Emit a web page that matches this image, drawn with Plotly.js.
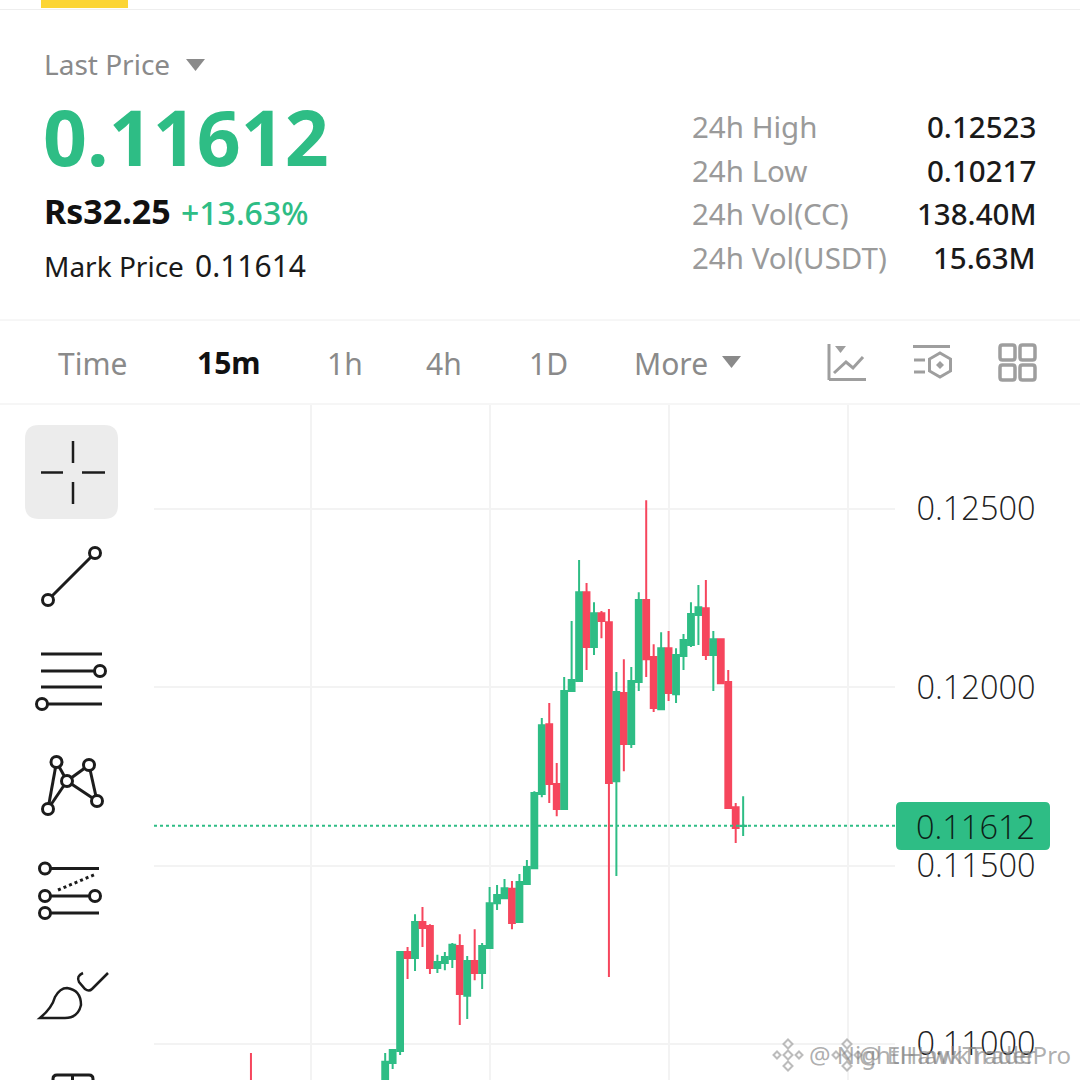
<!DOCTYPE html>
<html><head><meta charset="utf-8">
<script src="https://cdn.plot.ly/plotly-3.0.1.min.js"></script>
<style>html,body{margin:0;padding:0;background:#fff}#c{width:1080px;height:1080px}</style>
</head><body><div id="c"></div>
<script>
// candle position (15-minute bars counted from the 3rd grid line)
var candleIndex=[-56,-38,-37,-36,-35,-34,-33,-32,-31,-30,-29,-28,-27,-26,-25,-24,-23,-22,-21,-20,-19,-18,-17,-16,-15,-14,-13,-12,-11,-10,-9,-8,-7,-6,-5,-4,-3,-2,-1,0,1,2,3,4,5,6,7,8,9,10];
var openPrices=[0.10880,0.10885,0.10947,0.10980,0.11258,0.11241,0.11342,0.11331,0.11213,0.11227,0.11238,0.11275,0.11135,0.11233,0.11199,0.11269,0.11395,0.11409,0.11435,0.11342,0.11449,0.11493,0.11701,0.11897,0.11729,0.11659,0.11990,0.12018,0.12267,0.12113,0.12208,0.12183,0.11737,0.11984,0.11841,0.12015,0.12245,0.12085,0.11939,0.12110,0.11981,0.12088,0.12119,0.12203,0.12222,0.12091,0.12135,0.12015,0.11664,0.11611];
var highPrices=[0.10975,0.10975,0.10986,0.11258,0.11272,0.11364,0.11384,0.11336,0.11250,0.11258,0.11283,0.11308,0.11247,0.11322,0.11283,0.11440,0.11446,0.11463,0.11457,0.11477,0.11516,0.11709,0.11914,0.11956,0.11788,0.12029,0.12186,0.12357,0.12293,0.12239,0.12214,0.12220,0.12043,0.12079,0.12057,0.12267,0.12525,0.12121,0.12155,0.12158,0.12110,0.12150,0.12239,0.12287,0.12301,0.12158,0.12135,0.12049,0.11676,0.11695];
var lowPrices=[0.10850,0.10857,0.10930,0.10969,0.11182,0.11205,0.11272,0.11196,0.11199,0.11207,0.11213,0.11053,0.11070,0.11179,0.11154,0.11269,0.11376,0.11409,0.11322,0.11339,0.11449,0.11491,0.11692,0.11676,0.11639,0.11659,0.11990,0.12015,0.12049,0.12091,0.12138,0.11188,0.11471,0.11765,0.11830,0.11990,0.12029,0.11931,0.11939,0.11962,0.11956,0.12049,0.12113,0.12119,0.12077,0.11990,0.12009,0.11659,0.11564,0.11583];
var closePrices=[0.10860,0.10950,0.10983,0.11258,0.11241,0.11342,0.11325,0.11213,0.11230,0.11244,0.11278,0.11140,0.11233,0.11199,0.11275,0.11395,0.11418,0.11437,0.11339,0.11454,0.11496,0.11704,0.11894,0.11729,0.11659,0.11990,0.12021,0.12267,0.12113,0.12208,0.12186,0.11732,0.11987,0.11841,0.12018,0.12245,0.12079,0.11942,0.12110,0.11984,0.12091,0.12133,0.12206,0.12225,0.12091,0.12135,0.12012,0.11662,0.11606,0.11612];
var priceTicks=[0.11,0.115,0.12,0.125];
var priceTickLabels=["0.11000","0.11500","0.12000","0.12500"];
var gridIndex=[-48,-24,0,24];
var lastPrice=0.11612;

var GREEN="#2EBD85",RED="#F6465D",GRID="#f3f3f3",DARK="#1a1a1a",GREY="#8a8a8a",ICON="#9e9e9e",INK="#1c1c1c";
var SANS="'Noto Sans', sans-serif", THIN="'Open Sans', sans-serif";
var L=154,T=405,W=741,H=675;
function X(p){return (p-L)/W} function Y(p){return 1-(p-T)/H}
function path(d){var i=0;return d.replace(/-?\d+(\.\d+)?/g,function(n){i++;return i%2?X(+n).toFixed(5):Y(+n).toFixed(5)})}

var shapes=[],ann=[];
function sh(o){o.xref='paper';o.yref='paper';o.layer=o.layer||'above';shapes.push(o)}
function line(a,b,c,d,col,w,dash){sh({type:'line',x0:X(a),y0:Y(b),x1:X(c),y1:Y(d),line:{color:col,width:w,dash:dash||'solid'}})}
function circ(x,y,r,col,w){sh({type:'circle',x0:X(x-r),x1:X(x+r),y0:Y(y-r),y1:Y(y+r),fillcolor:'#fff',line:{color:col||INK,width:w||3}})}
function pth(d,fill,col,w){sh({type:'path',path:path(d),fillcolor:fill||'rgba(0,0,0,0)',line:{color:col||'rgba(0,0,0,0)',width:w||0}})}
function rr(a,b,c,d,r,fill,col,w){pth('M'+(a+r)+' '+b+' L'+(c-r)+' '+b+' Q'+c+' '+b+' '+c+' '+(b+r)+' L'+c+' '+(d-r)+' Q'+c+' '+d+' '+(c-r)+' '+d+' L'+(a+r)+' '+d+' Q'+a+' '+d+' '+a+' '+(d-r)+' L'+a+' '+(b+r)+' Q'+a+' '+b+' '+(a+r)+' '+b+' Z',fill,col,w)}
function tx(x,y,t,size,col,anchor,weight,fam){ann.push({xref:'paper',yref:'paper',x:X(x),y:Y(y),text:t,showarrow:false,xanchor:anchor||'left',yanchor:'middle',borderpad:0,font:{size:size,color:col,family:fam||SANS,weight:weight||400}})}

// header
sh({type:'rect',x0:X(41),x1:X(128),y0:Y(0),y1:Y(8),fillcolor:'#FCD535',line:{width:0}});
line(0,9.5,1080,9.5,'#eeeeee',1);
line(0,320,1080,320,'#eeeeee',1);
line(0,404,1080,404,'#f6f6f6',2);
tx(42.5,63.5,'Last Price',28,GREY);
pth('M186 59 L205 59 L195.5 71 Z',GREY);
tx(41.5,136,'0.11612',77,GREEN,'left',700);
tx(42.5,211,'Rs32.25',34,'#111','left',700);
tx(180,212,'+13.63%',32,GREEN,'left',500);
tx(42.5,265.5,'Mark Price',28,DARK);
tx(193.5,265.5,'0.11614',30,DARK);
var statNames=['24h High','24h Low','24h Vol(CC)','24h Vol(USDT)'];
var statVals=['0.12523','0.10217','138.40M','15.63M'];
var statY=[127,170.5,214,258];
statNames.forEach(function(n,i){tx(690.5,statY[i],n,29.5,'#9a9a9a');tx(1036.5,statY[i],statVals[i],29.5,DARK,'right',500)});

// timeframe row
tx(57,363,'Time',30,GREY);
tx(195.5,362,'15m',30,'#111','left',700);
tx(325.5,363,'1h',30,GREY);
tx(424.5,363,'4h',30,GREY);
tx(527.5,363,'1D',30,GREY);
tx(632.5,363,'More',30,GREY);
pth('M722 356 L741 356 L731.5 368 Z',GREY);
// chart-type icons
line(829,344,829,380,ICON,3);line(829,379.5,866,379.5,ICON,3);
pth('M835 346 L846 346 L840.5 353 Z',ICON);
pth('M834 373 L846 362 L853 368 L863 357',null,ICON,3);
line(913,346.5,950,346.5,ICON,3);line(914,360,925,360,ICON,3);line(914,372,925,372,ICON,3);
pth('M940 353 L950.5 359 L950.5 371 L940 377 L929.5 371 L929.5 359 Z',null,ICON,3);
pth('M940 361 L944 365 L940 369 L936 365 Z',ICON);
rr(1000,345,1015,360,2.5,null,ICON,3.5);rr(1020,345,1035,360,2.5,null,ICON,3.5);
rr(1000,365,1015,380,2.5,null,ICON,3.5);rr(1020,365,1035,380,2.5,null,ICON,3.5);

// left drawing tools
rr(25,425,118,519,14,'#ececec');
line(73,441,73,463,INK,2.5);line(73,482,73,504,INK,2.5);line(41,472.5,63,472.5,INK,2.5);line(82,472.5,105,472.5,INK,2.5);
line(48,600,95,553,INK,3);circ(48,600,5.5);circ(95,553,5.5);
line(41,654,102,654,INK,3);line(41,671,100,671,INK,3);line(41,687,102,687,INK,3);line(48,704,102,704,INK,3);
circ(100,671,5.5);circ(42,704,5.5);
[[56.5,762,48,809],[56.5,762,67,781],[48,809,67,781],[67,781,89,765],[89,765,97,801],[67,781,97,801]].forEach(function(s){line(s[0],s[1],s[2],s[3],INK,3)});
[[56.5,762],[89,765],[67,781],[97,801],[48,809]].forEach(function(c){circ(c[0],c[1],5.5)});
line(45,868.5,99,868.5,INK,3);line(45,896,95,896,INK,3);line(45,913,99,913,INK,3);
line(58,890,96,874,INK,3,'dot');
circ(45,868.5,5.5);circ(45,896,5.5);circ(95,896,5.5);circ(45,913,5.5);
pth('M40 1018 Q52 1008 55 997 Q60 988 67 988 Q81 990 81 1005 Q78 1018 65 1018 Z',null,INK,2.5);
pth('M83 973 Q76 976 79 982 L85 989 Q89 992 92 989 L108 973',null,INK,2.5);
rr(53,1075,93,1100,4,null,INK,3);line(72.5,1075,72.5,1082,INK,3);

// last price line and tag
sh({type:'line',xref:'paper',x0:0,x1:1,y0:0,y1:0,line:{color:GREEN,width:2,dash:'dot'}});
var lp=shapes[shapes.length-1];lp.yref='y';lp.y0=lastPrice;lp.y1=lastPrice;
rr(896,802,1050,850,5,GREEN);
tx(915,826,'0.11612',32.5,'#0c1f18','left',300,THIN);

// watermark
function wm(x,tx0,t){
  var c=x+15,m=1055;
  [[0,0,4.5],[-11,0,3.5],[11,0,3.5],[0,-11,4.5],[0,11,4.5]].forEach(function(o){
    var a=c+o[0],b=m+o[1],r=o[2];
    pth('M'+a+' '+(b-r)+' L'+(a+r)+' '+b+' L'+a+' '+(b+r)+' L'+(a-r)+' '+b+' Z','rgba(255,255,255,0.6)','rgba(165,165,165,0.75)',2);
  });
  tx(tx0,1054,t,24,'rgba(130,130,130,0.65)','left',400);
}
wm(773,808,'@ NightHawkTrader');
wm(832,858,'@ ElHawkTradePro');

var trace={type:'candlestick',x:candleIndex,open:openPrices,high:highPrices,low:lowPrices,close:closePrices,
  increasing:{line:{color:GREEN,width:2},fillcolor:GREEN},
  decreasing:{line:{color:RED,width:2},fillcolor:RED},
  whiskerwidth:0,hoverinfo:'skip',showlegend:false};

Plotly.newPlot('c',[trace],{
  width:1080,height:1080,paper_bgcolor:'#fff',plot_bgcolor:'#fff',showlegend:false,
  margin:{l:L,r:1080-L-W,t:T,b:0,pad:0},
  boxgap:0.22,boxgroupgap:0,
  xaxis:{type:'linear',range:[-69.0,30.36],tickmode:'array',tickvals:gridIndex,showticklabels:false,ticks:'',gridcolor:GRID,gridwidth:2,zeroline:false,showline:false,rangeslider:{visible:false},fixedrange:true},
  yaxis:{side:'right',range:[0.10899,0.12792],tickmode:'array',tickvals:priceTicks,ticktext:priceTickLabels,gridcolor:GRID,gridwidth:2,zeroline:false,showline:false,ticks:'outside',ticklen:14,tickcolor:'rgba(0,0,0,0)',tickfont:{family:THIN,size:32.5,color:'#222',weight:300},fixedrange:true},
  shapes:shapes,annotations:ann
},{displayModeBar:false,staticPlot:true});
</script></body></html>
